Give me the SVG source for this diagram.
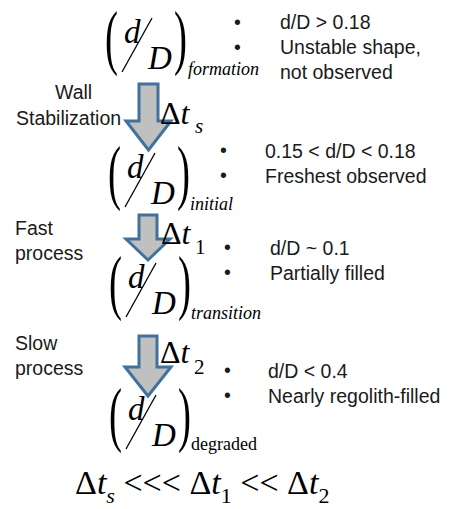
<svg xmlns="http://www.w3.org/2000/svg" width="459" height="509" viewBox="0 0 459 509">
<defs>
<style>
.s{font-family:"Liberation Sans",Arial,sans-serif;font-size:19.5px;fill:#1a1a1a}
.m{font-family:"Liberation Serif","Times New Roman",serif;fill:#000}
.i{font-style:italic}
.par{font-size:52px}
.big{font-size:33px}
.sub{font-size:18px}
.dt{font-size:32px}
.dts{font-size:21px}
.arr{fill:#c0c0c0;stroke:#41719c;stroke-width:3;stroke-linejoin:miter}
.sl{stroke:#000;stroke-width:1.3;fill:none}
</style>
<g id="frac">
<text class="m par" transform="translate(1,49) scale(0.75,1.38)" x="0" y="0">(</text>
<text class="m i big" x="20" y="31">d</text>
<line class="sl" x1="18" y1="60" x2="48" y2="6"/>
<text class="m i big" x="44" y="57">D</text>
<text class="m par" transform="translate(70,49) scale(0.75,1.38)" x="0" y="0">)</text>
</g>
</defs>
<rect width="459" height="509" fill="#fff"/>

<g id="connectors">
<path class="arr" d="M139,84 H158 V121 H171 L148.5,150 L126,121 H139 Z"/>
<path class="arr" d="M139,215 H157 V239 H170 L148,260 L126,239 H139 Z"/>
<path class="arr" d="M139,336 H157 V367 H171 L148,396 L125,367 H139 Z"/>
</g>

<g id="formation">
<use href="#frac" x="104" y="12"/>
<text class="m i sub" x="188" y="75" font-size="19">formation</text>
<text class="s" x="234" y="29">•</text>
<text class="s" x="234" y="54">•</text>
<text class="s" x="280" y="29">d/D &gt; 0.18</text>
<text class="s" x="280" y="54">Unstable shape,</text>
<text class="s" x="280" y="79">not observed</text>
</g>

<g id="stabilization">
<text class="s" x="55" y="99">Wall</text>
<text class="s" x="16" y="125">Stabilization</text>
<text class="m i dt" x="160" y="124"><tspan font-style="normal">Δ</tspan>t</text>
<text class="m i dts" x="195" y="133">s</text>
</g>

<g id="initial">
<use href="#frac" x="107" y="147"/>
<text class="m i sub" x="190" y="210">initial</text>
<text class="s" x="220" y="157">•</text>
<text class="s" x="220" y="182">•</text>
<text class="s" x="265" y="158">0.15 &lt; d/D &lt; 0.18</text>
<text class="s" x="265" y="183">Freshest observed</text>
</g>

<g id="fast">
<text class="s" x="15" y="235">Fast</text>
<text class="s" x="15" y="260">process</text>
<text class="m i dt" x="161" y="244"><tspan font-style="normal">Δ</tspan>t</text>
<text class="m dts" x="195" y="254">1</text>
</g>

<g id="transition">
<use href="#frac" x="108" y="257"/>
<text class="m i sub" x="191" y="319">transition</text>
<text class="s" x="224" y="254">•</text>
<text class="s" x="224" y="279">•</text>
<text class="s" x="270" y="255">d/D ~ 0.1</text>
<text class="s" x="270" y="280">Partially filled</text>
</g>

<g id="slow">
<text class="s" x="15" y="350">Slow</text>
<text class="s" x="15" y="375">process</text>
<text class="m i dt" x="160" y="363"><tspan font-style="normal">Δ</tspan>t</text>
<text class="m dts" x="194" y="374">2</text>
</g>

<g id="degraded">
<use href="#frac" x="108" y="389"/>
<text class="m" x="191" y="450" font-size="18">degraded</text>
<text class="s" x="224" y="377">•</text>
<text class="s" x="224" y="402">•</text>
<text class="s" x="268" y="378">d/D &lt; 0.4</text>
<text class="s" x="268" y="403">Nearly regolith-filled</text>
</g>

<g id="relation">
<text class="m i" x="75" y="494" font-size="34"><tspan font-style="normal">Δ</tspan>t<tspan font-size="22" dy="9">s</tspan><tspan font-style="normal" dy="-9"> &lt;&lt;&lt; Δ</tspan>t<tspan font-size="22" font-style="normal" dy="9">1</tspan><tspan font-style="normal" dy="-9"> &lt;&lt; Δ</tspan>t<tspan font-size="22" font-style="normal" dy="9">2</tspan></text>
</g>
</svg>
